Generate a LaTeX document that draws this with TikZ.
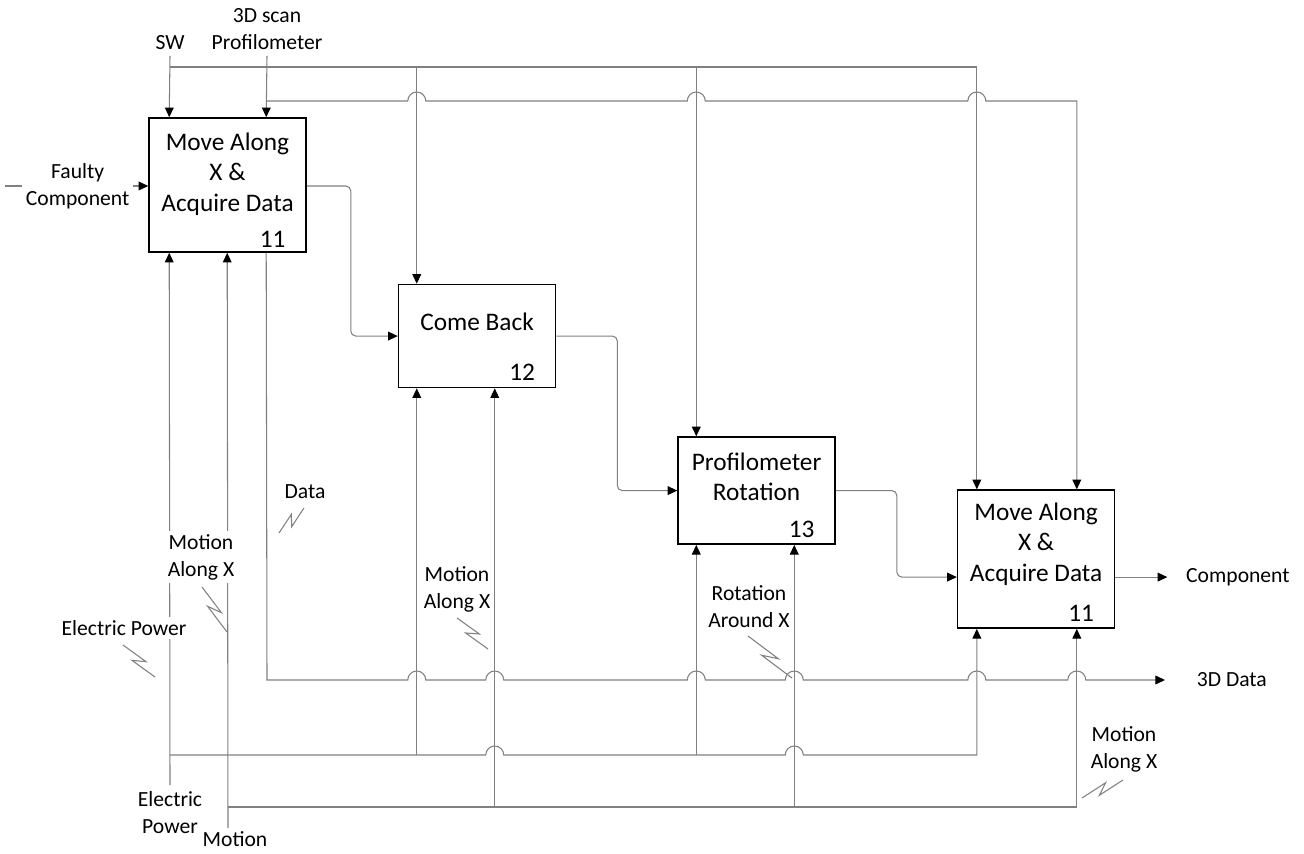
\documentclass[tikz,border=0pt]{standalone}
\usepackage{fontspec}
\setmainfont{Carlito}
\usetikzlibrary{positioning,calc,arrows.meta}
\definecolor{linegray}{RGB}{128,128,128}
\newcommand{\boxfont}{\fontsize{14.4}{17.3}\selectfont}
\newcommand{\lblfont}{\fontsize{12.3}{15.4}\selectfont}
% hop over a crossing line
\newcommand{\hop}[1]{-- ([xshift=-0.18cm]#1) arc[start angle=180, end angle=0, radius=0.18cm]}
% zig-zag from a label to its arrow
\newcommand{\squig}[2]{\draw[conn] (#1) -- ($(#1)!0.62!(#2)!0.09cm!90:(#2)$) -- ($(#1)!0.38!(#2)!0.09cm!-90:(#2)$) -- (#2);}

\begin{document}
\begin{tikzpicture}[x=0.02cm, y=-0.02cm,
  fn/.style={draw=black, line width=0.9pt, fill=white, minimum width=3.14cm, inner sep=0pt},
  fntxt/.style={font=\boxfont, align=center},
  num/.style={font=\boxfont, anchor=south east, inner sep=0pt},
  lbl/.style={font=\lblfont, align=center, fill=white, inner sep=2pt},
  conn/.style={draw=linegray, line width=0.6pt},
  flow/.style={conn, -{Triangle[length=5.5pt, width=5pt, color=black]}}]

  \useasboundingbox (0,0) rectangle (1304,854);

  % ── Function boxes ───────────────────────────────────────────
  \node[fn, minimum height=2.68cm]                                   (b1) at (227.5,185) {};
  \node[fn, minimum height=2.06cm, below right=0.62cm and 1.82cm of b1.south east] (b2) {};
  \node[fn, minimum height=2.14cm, below right=0.96cm and 2.42cm of b2.south east] (b3) {};
  \node[fn, minimum height=2.76cm, below right=1.06cm and 2.42cm of b3.north east] (b4) {};

  \node[fntxt] (b1t) at ([yshift=0.22cm]b1.center) {Move Along\\X \&\\Acquire Data};
  \node[fntxt] (b2t) at ([yshift=0.29cm]b2.center) {Come Back};
  \node[fntxt] (b3t) at ([yshift=0.28cm]b3.center) {Profilometer\\Rotation};
  \node[fntxt] (b4t) at ([yshift=0.30cm]b4.center) {Move Along\\X \&\\Acquire Data};

  \node[num] (b1n) at ([xshift=-0.42cm, yshift=0.10cm]b1.south east) {11};
  \node[num] (b2n) at ([xshift=-0.42cm, yshift=0.14cm]b2.south east) {12};
  \node[num] (b3n) at ([xshift=-0.42cm, yshift=0.14cm]b3.south east) {13};
  \node[num] (b4n) at ([xshift=-0.42cm, yshift=0.14cm]b4.south east) {11};

  % ── Arrow points on the boxes ────────────────────────────────
  \coordinate (b1c1) at ([xshift=0.42cm]b1.north west);
  \coordinate (b1c2) at ([xshift=2.36cm]b1.north west);
  \coordinate (b1m1) at ([xshift=0.42cm]b1.south west);
  \coordinate (b1m2) at ([xshift=1.58cm]b1.south west);
  \coordinate (b1o2) at ([xshift=2.36cm]b1.south west);
  \coordinate (b2c1) at ([xshift=0.38cm]b2.north west);
  \coordinate (b2m1) at ([xshift=0.38cm]b2.south west);
  \coordinate (b2m2) at ([xshift=1.94cm]b2.south west);
  \coordinate (b3c1) at ([xshift=0.38cm]b3.north west);
  \coordinate (b3m1) at ([xshift=0.38cm]b3.south west);
  \coordinate (b3m2) at ([xshift=2.34cm]b3.south west);
  \coordinate (b4c1) at ([xshift=0.40cm]b4.north west);
  \coordinate (b4c2) at ([xshift=2.40cm]b4.north west);
  \coordinate (b4m1) at ([xshift=0.40cm]b4.south west);
  \coordinate (b4m2) at ([xshift=2.40cm]b4.south west);
  \coordinate (b4in)  at ([yshift=-0.36cm]b4.west);
  \coordinate (b4out) at ([yshift=-0.36cm]b4.east);

  % ── Free ends and buses ──────────────────────────────────────
  \coordinate (sw)     at (170,56);
  \coordinate (scan)   at (267,56);
  \coordinate (swbus)  at (170,67);
  \coordinate (scanbus) at (267,101);
  \coordinate (fin)    at (5,186);
  \coordinate (epw)    at (170,785);
  \coordinate (mot)    at (228,828);
  \coordinate (epbus)  at (170,755);
  \coordinate (motbus) at (228,807);
  \coordinate (dat)    at (267,680);
  \coordinate (comp)   at ([xshift=1.04cm]b4out);
  \coordinate (d3)     at (1165,680);

  % ── Controls ─────────────────────────────────────────────────
  \draw[flow] (sw) -- (b1c1);
  \draw[flow] (scan) -- (b1c2);
  \draw[flow] (swbus) -| (b4c1);
  \draw[flow] (swbus -| b2c1) -- (b2c1);
  \draw[flow] (swbus -| b3c1) -- (b3c1);
  \draw[flow] (scanbus) \hop{b2c1 |- scanbus} \hop{b3c1 |- scanbus} \hop{b4c1 |- scanbus} -| (b4c2);

  % ── Inputs and outputs ───────────────────────────────────────
  \draw[flow] (fin) -- (b1.west |- fin)
    node[lbl, midway, xshift=0.02cm] (finl) {Faulty\\Component};
  \draw[flow, rounded corners=0.1cm] (b1.east |- fin) -- ++(44,0) |- (b2.west);
  \draw[flow, rounded corners=0.1cm] (b2.east) -- ++(61,0) |- (b3.west);
  \draw[flow, rounded corners=0.1cm] (b3.east) -- ++(61,0) |- (b4in);
  \draw[flow] (b4out) -- (comp);
  \draw[flow] (b1o2) -- (dat) \hop{b2m1 |- dat} \hop{b2m2 |- dat} \hop{b3m1 |- dat}
    \hop{b3m2 |- dat} \hop{b4m1 |- dat} \hop{b4m2 |- dat} -- (d3);

  % ── Mechanisms ───────────────────────────────────────────────
  \draw[flow] (epw) -- (b1m1);
  \draw[flow] (mot) -- (b1m2);
  \draw[flow] (epbus) \hop{b2m2 |- epbus} \hop{b3m2 |- epbus} -| (b4m1);
  \draw[flow] (epbus -| b2m1) -- (b2m1);
  \draw[flow] (epbus -| b3m1) -- (b3m1);
  \draw[flow] (motbus) -| (b4m2);
  \draw[flow] (motbus -| b2m2) -- (b2m2);
  \draw[flow] (motbus -| b3m2) -- (b3m2);

  % ── Labels ───────────────────────────────────────────────────
  \node[lbl, above=0.05cm of sw]   (swl)   {SW};
  \node[lbl, above=0.05cm of scan] (scanl) {3D scan\\Profilometer};
  \node[lbl, right=0.3cm of comp]  (compl) {Component};
  \node[lbl, right=0.56cm of d3]   (d3l)   {3D Data};
  \node[lbl, below=0.06cm of epw]  (epwl)  {Electric\\Power};
  \node[lbl, below=0.0cm of mot, xshift=0.14cm] (motl) {Motion};

  \node[lbl] (ml1) at (201,557)  {Motion\\Along X};
  \node[lbl] (datl) at (305,492) {Data};
  \node[lbl] (epl) at (124,628)  {Electric Power};
  \node[lbl] (ml2) at (457,589)  {Motion\\Along X};
  \node[lbl] (rotl) at (749,607) {Rotation\\Around X};
  \node[lbl] (ml3) at (1124,749) {Motion\\Along X};

  % zig-zags
  \coordinate (q1a) at (202,587);  \coordinate (q1b) at (227,632);
  \coordinate (q2a) at (279,533);  \coordinate (q2b) at (304,508);
  \coordinate (q3a) at (123,645);  \coordinate (q3b) at (155,677);
  \coordinate (q4a) at (457,618);  \coordinate (q4b) at (488,649);
  \coordinate (q5a) at (748,636);  \coordinate (q5b) at (792,678);
  \coordinate (q6a) at (1123,780); \coordinate (q6b) at (1082,798);
  \squig{q1a}{q1b}
  \squig{q2a}{q2b}
  \squig{q3a}{q3b}
  \squig{q4a}{q4b}
  \squig{q5a}{q5b}
  \squig{q6a}{q6b}

\end{tikzpicture}
\end{document}
